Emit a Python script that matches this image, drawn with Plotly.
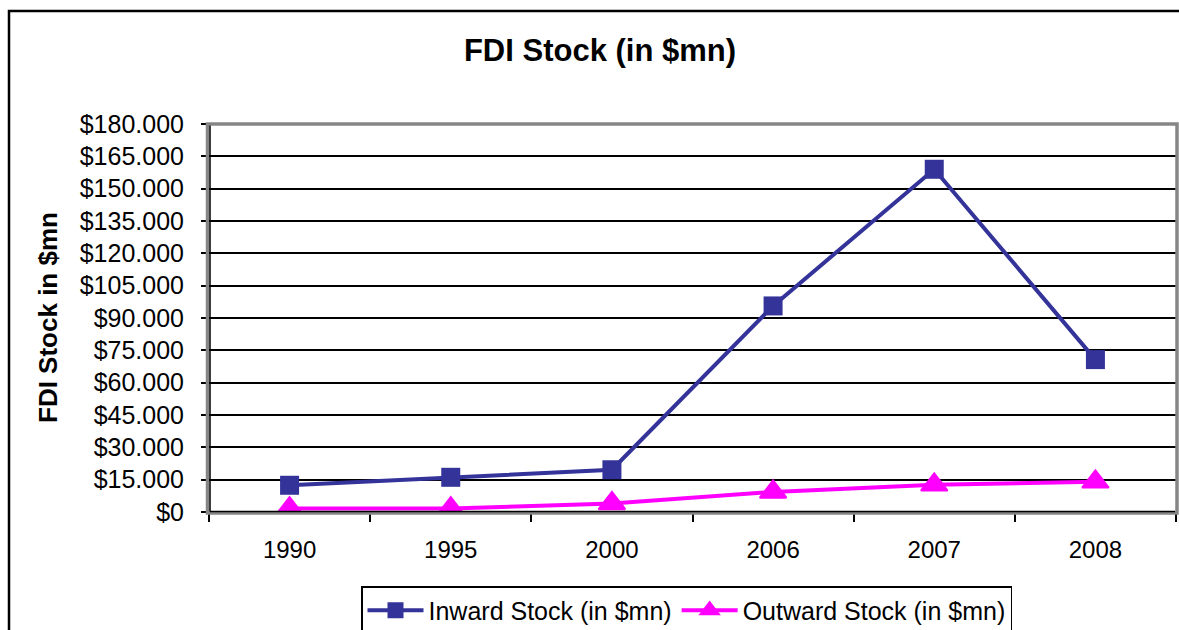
import plotly.graph_objects as go

years = ["1990", "1995", "2000", "2006", "2007", "2008"]
inward = [12400, 16100, 19600, 95600, 159000, 70700]
outward = [1600, 1600, 4000, 9300, 12600, 14000]
y_ticks = [0, 15000, 30000, 45000, 60000, 75000, 90000, 105000, 120000, 135000, 150000, 165000, 180000]
y_tick_labels = ["$0", "$15.000", "$30.000", "$45.000", "$60.000", "$75.000", "$90.000",
                 "$105.000", "$120.000", "$135.000", "$150.000", "$165.000", "$180.000"]

W, H = 1179, 630
ML, MR, MT, MB = 209, 3, 124, 118
PW, PH = W - ML - MR, H - MT - MB


def px(x):
    return (x - ML) / PW


def py(y):
    return (H - MB - y) / PH


FONT = "Liberation Sans, Arial, sans-serif"

fig = go.Figure()
fig.add_trace(go.Scatter(
    x=years, y=inward, name="Inward Stock (in $mn)", mode="lines+markers",
    line=dict(color="#333399", width=4),
    marker=dict(symbol="square", size=19, color="#333399"),
))
fig.add_trace(go.Scatter(
    x=years, y=outward, name="Outward Stock (in $mn)", mode="lines+markers",
    line=dict(color="#FF00FF", width=4),
    marker=dict(symbol="triangle-up", size=23, color="#FF00FF",
                line=dict(color="#FF00FF", width=2)),
))

shapes = [
    dict(type="rect", xref="paper", yref="paper", x0=px(9), x1=px(1400), y0=py(900), y1=py(11),
         line=dict(color="black", width=2.5), layer="below"),
    dict(type="rect", xref="paper", yref="paper", x0=px(207.5), x1=px(1177), y0=py(513), y1=py(124),
         line=dict(color="#868686", width=3.5), layer="above"),
    dict(type="line", xref="paper", yref="paper", x0=px(210), x1=px(210), y0=py(511.5), y1=py(125.5),
         line=dict(color="black", width=1.5), layer="above"),
    dict(type="line", xref="paper", yref="paper", x0=px(210), x1=px(1175), y0=py(511.5), y1=py(511.5),
         line=dict(color="black", width=1.5), layer="above"),
]

fig.update_layout(
    width=W, height=H,
    margin=dict(l=ML, r=MR, t=MT, b=MB, autoexpand=False),
    paper_bgcolor="white", plot_bgcolor="white",
    font=dict(family=FONT, color="black"),
    separators=",.",
    showlegend=True,
    title=dict(text="<b>FDI Stock (in $mn)</b>", x=600 / W, xanchor="center",
               y=1 - 50 / H, yanchor="middle", font=dict(size=31, family=FONT, color="black")),
    legend=dict(orientation="h", xref="container", yref="container",
                x=361 / W, y=1 - 586 / H, xanchor="left", yanchor="top",
                bordercolor="black", borderwidth=1.5, bgcolor="white",
                font=dict(size=25, family=FONT, color="black"),
                itemwidth=56, tracegroupgap=0),
    shapes=shapes,
    annotations=[dict(text="<b>FDI Stock in $mn</b>", xref="paper", yref="paper",
                      x=px(48), y=0.5, textangle=-90, showarrow=False,
                      xanchor="center", yanchor="middle",
                      font=dict(size=26, family=FONT, color="black"))],
)

fig.update_xaxes(
    type="category", range=[-0.5, 5.5], showgrid=False, showline=False, zeroline=False,
    ticks="outside", tickson="boundaries", ticklen=9, tickwidth=1.5, tickcolor="black",
    tickfont=dict(size=24, family=FONT, color="black"), ticklabelstandoff=21,
)
fig.update_yaxes(
    range=[0, 180000], tickmode="array", tickvals=y_ticks, ticktext=y_tick_labels,
    showgrid=True, gridcolor="black", gridwidth=1.5, zeroline=False, showline=False,
    ticks="outside", ticklen=7, tickwidth=1.5, tickcolor="black",
    tickfont=dict(size=25, family=FONT, color="black"), ticklabelstandoff=12,
)

fig.write_html("out.html", config={"displayModeBar": False},
               post_script="document.body.style.margin='0';")
